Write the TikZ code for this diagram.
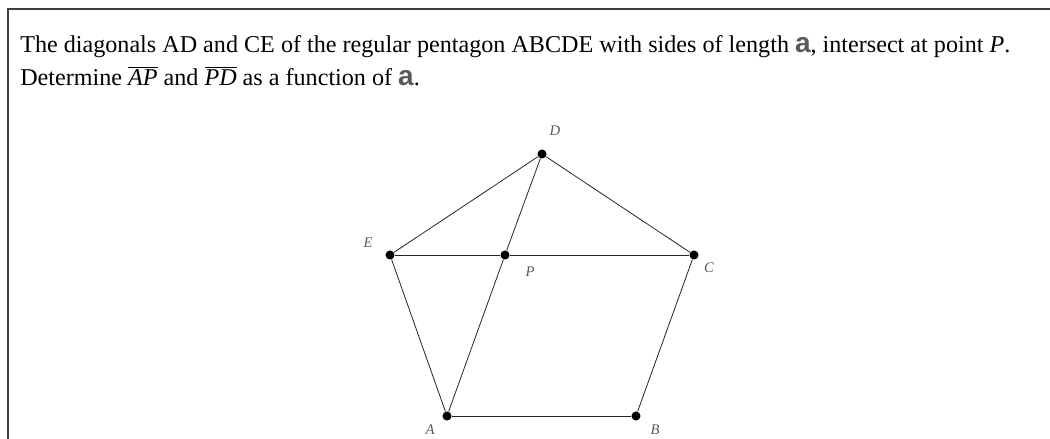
\documentclass[tikz,border=0pt]{standalone}
\usepackage{fontspec}
\setmainfont{Liberation Serif}
\setsansfont{Liberation Sans}
\newcommand{\sidea}{{\fontsize{21}{22}\selectfont\textsf{\textbf{\color{black!65}a}}}}
\begin{document}
\begin{tikzpicture}[x=0.75pt, y=-0.75pt,
    dot/.style={circle, fill=black, inner sep=0pt, minimum size=6.8pt},
    lbl/.style={font=\fontsize{11}{13}\selectfont\itshape, text=black!65},
    side/.style={black!85, line width=0.6pt}]
    \useasboundingbox (0,0) rectangle (1050,439);
    % frame
    \draw[black!75, line width=1.1pt] (1050,9) -- (8,9) -- (8,439);
    % problem text
    \node[anchor=base west, inner sep=0pt, font=\fontsize{18.1}{22}\selectfont] (line1) at (20,52)
        {The diagonals AD and CE of the regular pentagon ABCDE with sides of length \sidea, intersect at point \textit{P}.};
    \node[anchor=base west, inner sep=0pt, font=\fontsize{18.1}{22}\selectfont] (line2) at (20,85)
        {Determine $\overline{\mbox{\textit{AP}}}$ and $\overline{\mbox{\textit{PD}}}$ as a function of \sidea.};
    % pentagon
    \node[dot] (A) at (447,416) {};
    \node[dot] (B) at (636,416) {};
    \node[dot] (C) at (694,255) {};
    \node[dot] (D) at (542,154) {};
    \node[dot] (E) at (390,255) {};
    \node[dot] (P) at (505,255) {};

    \draw[side] (A) -- (B);
    \draw[side] (B) -- (C);
    \draw[side] (C) -- (D);
    \draw[side] (D) -- (E);
    \draw[side] (E) -- (A);
    \draw[side] (A) -- (P);
    \draw[side] (P) -- (D);
    \draw[side] (E) -- (P);
    \draw[side] (P) -- (C);

    \node[lbl] at (430,430) {A};
    \node[lbl] at (655,430) {B};
    \node[lbl] at (709,268) {C};
    \node[lbl] at (555,131) {D};
    \node[lbl] at (368,243) {E};
    \node[lbl] at (530,272) {P};
\end{tikzpicture}
\end{document}
